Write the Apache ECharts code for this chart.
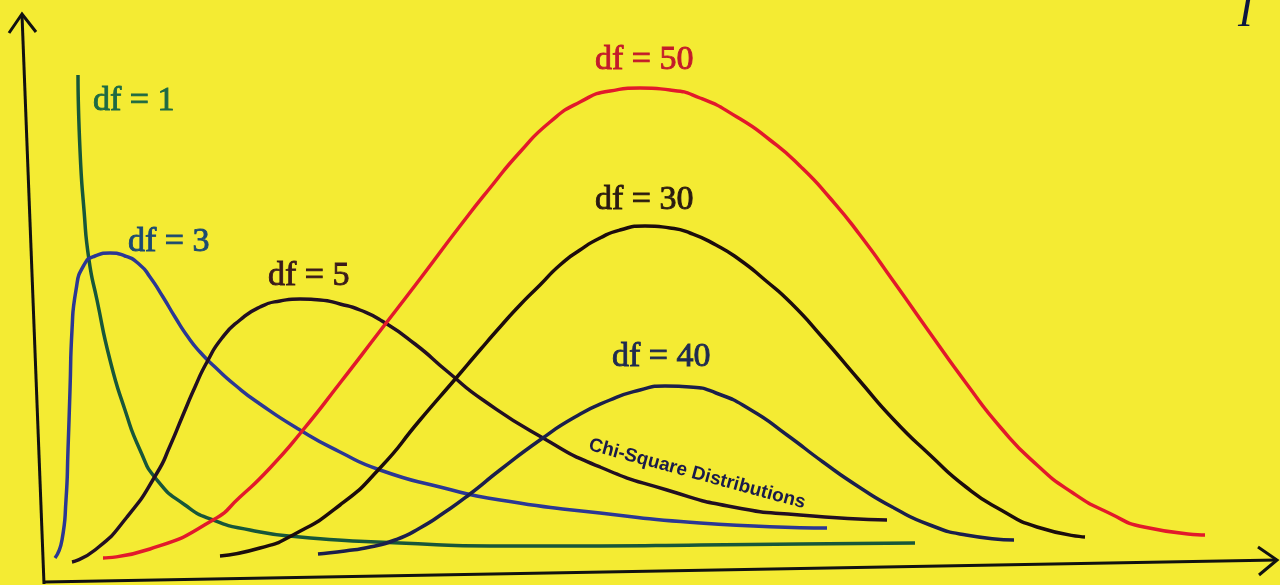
<!DOCTYPE html>
<html lang="en">
<head>
<meta charset="UTF-8">
<title>Chi-Square Distributions</title>
<script src="https://cdn.jsdelivr.net/npm/echarts@6/dist/echarts.min.js"></script>
<style>
  html, body { margin: 0; padding: 0; background: #f4eb33; }
</style>
</head>
<body>
<div id="main" style="width: 1280px; height: 585px;"></div>
<script>
    // curves: [x, density] in chart units
    var df1 = [[3.3,50.5],[3.5,43.0],[3.9,37.0],[4.4,32.0],[5.2,28.0],[6.5,22.0],[8.0,17.0],[9.5,13.0],
        [11.2,10.0],[14.0,7.5],[16.8,6.0],[20.5,5.0],[25.5,4.3],[35.5,3.7],[45.5,3.4],[55.5,3.4],
        [65.5,3.5],[75.5,3.6],[87.0,3.7]];
    var df3 = [[1.0,2.2],[1.7,4.0],[2.1,8.0],[2.3,13.0],[2.5,19.0],[2.7,25.0],[3.1,29.0],[3.9,31.5],
        [5.0,32.4],[6.5,32.7],[8.0,32.4],[9.5,31.5],[10.5,30.3],[11.8,28.3],[13.0,26.3],[14.3,24.3],
        [15.5,22.8],[17.0,21.3],[19.0,19.5],[21.5,17.6],[25.5,15.0],[29.5,12.8],[33.5,11.0],[39.5,9.3],
        [45.5,8.0],[55.5,6.7],[65.5,5.7],[78.2,5.2]];
    var df5 = [[2.7,1.8],[5.0,3.0],[8.2,6.3],[11.2,10.7],[12.5,13.4],[13.8,16.5],[15.0,19.3],[16.2,21.8],
        [17.7,24.2],[19.5,26.0],[21.5,27.3],[23.5,27.9],[25.5,28.1],[27.5,28.0],[29.5,27.6],[31.5,27.0],
        [33.7,25.9],[37.0,23.6],[40.3,20.8],[43.8,18.0],[49.8,14.2],[55.5,11.3],[62.2,9.0],[68.8,7.3],
        [75.5,6.5],[84.2,6.0]];
    var df30 = [[17.5,2.4],[21.5,3.2],[24.8,4.5],[29.5,7.5],[33.5,11.2],[37.5,16.0],[41.2,20.3],[43.5,23.0],
        [45.5,25.3],[47.5,27.5],[49.5,29.5],[51.5,31.5],[53.5,33.0],[55.5,34.2],[57.5,35.0],[60.0,35.4],
        [62.5,35.2],[64.5,34.7],[67.1,33.5],[69.5,32.0],[72.0,30.0],[74.6,27.7],[77.8,24.2],[81.4,20.0],
        [84.9,16.0],[88.5,12.5],[92.1,9.3],[95.6,7.0],[99.2,5.3],[104.0,4.3]];
    var df40 = [[27.3,2.6],[30.0,2.9],[32.5,3.3],[35.0,4.0],[37.5,5.2],[40.0,6.8],[42.5,8.6],[45.5,11.0],
        [49.5,14.0],[53.0,16.3],[56.5,18.0],[59.5,19.0],[62.0,19.4],[64.5,19.3],[67.1,18.7],[70.6,17.0],
        [74.2,14.5],[77.8,11.8],[81.4,9.3],[84.9,7.2],[88.5,5.5],[92.1,4.5],[96.9,4.0]];
    var df50 = [[5.8,2.2],[10.5,3.1],[16.8,6.0],[19.5,8.3],[22.5,11.2],[25.8,15.0],[29.5,19.7],[33.5,24.9],
        [37.5,30.1],[41.5,35.4],[44.5,39.2],[47.5,42.8],[50.5,45.8],[53.5,47.8],[56.5,48.9],[59.5,49.2],
        [62.5,49.0],[65.5,48.2],[69.2,46.3],[72.5,44.0],[75.5,41.4],[78.5,38.2],[81.5,34.5],[84.9,29.8],
        [88.5,24.7],[92.1,19.7],[95.6,15.2],[99.2,11.5],[102.8,8.7],[106.4,6.7],[109.9,5.3],[116.0,4.5]];

    var names = ['df = 1', 'df = 3', 'df = 5', 'df = 30', 'df = 40', 'df = 50'];
    var curves = [df1, df3, df5, df30, df40, df50];

    var lineColors = ['#17573a', '#2b3794', '#220f22', '#1c0c0c', '#1b1f4c', '#e2192b'];
    var textColors = ['#1d6a44', '#1b4a72', '#3a1a1a', '#2a1a10', '#1e2a50', '#c31a2a'];
    // label spots (pixels, left / middle)
    var labelPos = [[93,101], [128,242], [268,276], [595,200], [612,357], [595,60]];

    var mychart = echarts.init(document.getElementById('main'));

    var series = curves.map(function (c, i) {
        return {
            name: names[i],
            type: 'line',
            data: c,
            smooth: 0.6,
            showSymbol: false,
            lineStyle: { color: lineColors[i], width: 3.5 }
        };
    });

    var graphic = [
        // hand drawn axes, slightly tilted
        { type: 'polyline', shape: { points: [[44,584],[22,15]] }, style: { stroke: '#111', lineWidth: 3, fill: null } },
        { type: 'polyline', shape: { points: [[9,33],[22,14],[36,32]] }, style: { stroke: '#111', lineWidth: 3, fill: null } },
        { type: 'polyline', shape: { points: [[44,582],[1277,560]] }, style: { stroke: '#111', lineWidth: 3, fill: null } },
        { type: 'polyline', shape: { points: [[1258,547],[1277,560],[1259,575]] }, style: { stroke: '#111', lineWidth: 3, fill: null } },
        {
            type: 'text', x: 697, y: 474, rotation: -0.265,
            style: {
                text: 'Chi-Square Distributions', fill: '#1a1a4a',
                font: 'bold 19px "Liberation Sans", Arial, sans-serif',
                textAlign: 'center', textVerticalAlign: 'middle'
            }
        },
        {
            type: 'text', x: 1238, y: -8,
            style: { text: 'I', fill: '#0d1540', font: 'italic 44px "Liberation Serif", serif' }
        }
    ];
    names.forEach(function (n, i) {
        graphic.push({
            type: 'text', x: labelPos[i][0], y: labelPos[i][1],
            style: {
                text: n, fill: textColors[i],
                stroke: textColors[i], lineWidth: 0.9,
                font: '34px "Liberation Serif", "Times New Roman", serif',
                textVerticalAlign: 'middle'
            }
        });
    });

    mychart.setOption({
        animation: false,
        backgroundColor: '#f4eb33',
        grid: { left: 45, right: 5, top: 15, bottom: 5 },
        xAxis: { type: 'value', min: 0, max: 123, show: false },
        yAxis: { type: 'value', min: 0, max: 56.5, show: false },
        graphic: graphic,
        series: series
    });
</script>
</body>
</html>
